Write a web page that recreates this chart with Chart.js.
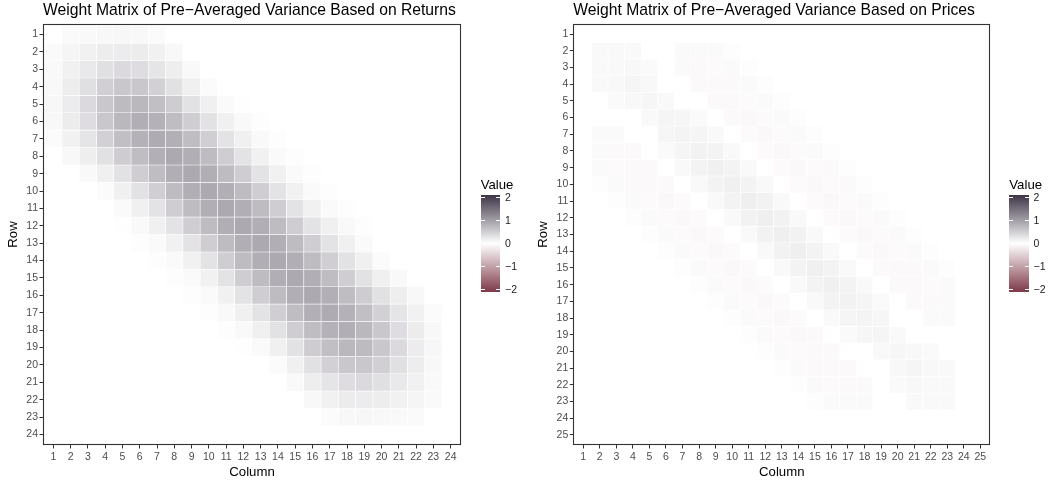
<!DOCTYPE html>
<html>
<head>
<meta charset="utf-8">
<title>Weight matrices of pre-averaged variance</title>
<script src="https://cdn.jsdelivr.net/npm/chart.js@4.4.1/dist/chart.umd.min.js"></script>
<style>
  body { margin: 0; background: #ffffff; font-family: 'Liberation Sans', Arial, sans-serif; }
  #wrap { position: relative; width: 1051px; height: 485px; overflow: hidden; }
  .panel { position: absolute; top: 0; height: 485px; }
  .legend-title { position: absolute; font-size: 13.2px; line-height: 13.2px; color: #000; white-space: nowrap; }
  .legend-bar { position: absolute; }
  .legend-tick { position: absolute; height: 1px; background: #ffffff; }
  .legend-label { position: absolute; font-size: 10.5px; line-height: 10.5px; color: #1a1a1a; white-space: nowrap; }
</style>
</head>
<body>
<div id="wrap">
  <div class="panel" style="left:0;width:525px"><canvas id="returns-chart"></canvas></div>
  <div class="panel" style="left:525px;width:526px"><canvas id="prices-chart"></canvas></div>
</div>
<script>
const returnsIndex = [1, 2, 3, 4, 5, 6, 7, 8, 9, 10, 11, 12, 13, 14, 15, 16, 17, 18, 19, 20, 21, 22, 23, 24];
const pricesIndex = [1, 2, 3, 4, 5, 6, 7, 8, 9, 10, 11, 12, 13, 14, 15, 16, 17, 18, 19, 20, 21, 22, 23, 24, 25];
const legendBreaks = [2, 1, 0, -1, -2];

// rows of the returns matrix (row 1 first), one value per column
const returnsWeights = [
  [0, .05, .06, .07, .08, .07, .04, 0, 0, 0, 0, 0, 0, 0, 0, 0, 0, 0, 0, 0, 0, 0, 0, 0],
  [.05, .10, .14, .18, .20, .19, .14, .07, 0, 0, 0, 0, 0, 0, 0, 0, 0, 0, 0, 0, 0, 0, 0, 0],
  [.06, .14, .23, .32, .37, .34, .27, .17, .06, 0, 0, 0, 0, 0, 0, 0, 0, 0, 0, 0, 0, 0, 0, 0],
  [.07, .18, .32, .47, .55, .55, .46, .31, .15, .04, 0, 0, 0, 0, 0, 0, 0, 0, 0, 0, 0, 0, 0, 0],
  [.08, .20, .37, .55, .68, .71, .64, .50, .30, .15, .05, .01, 0, 0, 0, 0, 0, 0, 0, 0, 0, 0, 0, 0],
  [.07, .19, .34, .55, .71, .80, .77, .66, .49, .30, .15, .06, .02, 0, 0, 0, 0, 0, 0, 0, 0, 0, 0, 0],
  [.04, .14, .27, .46, .64, .77, .83, .79, .66, .48, .29, .15, .06, .02, 0, 0, 0, 0, 0, 0, 0, 0, 0, 0],
  [0, .07, .17, .31, .50, .66, .79, .85, .80, .67, .49, .29, .14, .05, .02, 0, 0, 0, 0, 0, 0, 0, 0, 0],
  [0, 0, .06, .15, .30, .49, .66, .80, .85, .80, .67, .49, .29, .14, .05, .02, 0, 0, 0, 0, 0, 0, 0, 0],
  [0, 0, 0, .04, .15, .30, .48, .67, .80, .85, .80, .67, .49, .29, .14, .05, .02, 0, 0, 0, 0, 0, 0, 0],
  [0, 0, 0, 0, .05, .15, .29, .49, .67, .80, .85, .80, .67, .49, .29, .14, .05, .02, 0, 0, 0, 0, 0, 0],
  [0, 0, 0, 0, .01, .06, .15, .29, .49, .67, .80, .85, .80, .67, .49, .29, .15, .06, .02, 0, 0, 0, 0, 0],
  [0, 0, 0, 0, 0, .02, .05, .14, .29, .49, .67, .80, .85, .80, .67, .49, .29, .15, .05, 0, 0, 0, 0, 0],
  [0, 0, 0, 0, 0, 0, .02, .05, .14, .29, .49, .67, .80, .85, .80, .67, .48, .30, .15, .04, 0, 0, 0, 0],
  [0, 0, 0, 0, 0, 0, 0, .02, .05, .14, .29, .49, .67, .80, .85, .80, .66, .49, .30, .15, .06, 0, 0, 0],
  [0, 0, 0, 0, 0, 0, 0, 0, .02, .05, .14, .29, .49, .67, .80, .85, .79, .66, .50, .31, .17, .07, 0, 0],
  [0, 0, 0, 0, 0, 0, 0, 0, 0, .02, .06, .15, .29, .48, .66, .79, .83, .77, .64, .46, .27, .14, .04, 0],
  [0, 0, 0, 0, 0, 0, 0, 0, 0, 0, .02, .06, .15, .30, .49, .66, .77, .80, .71, .55, .34, .19, .07, 0],
  [0, 0, 0, 0, 0, 0, 0, 0, 0, 0, 0, .01, .05, .15, .30, .50, .64, .71, .68, .55, .37, .20, .08, 0],
  [0, 0, 0, 0, 0, 0, 0, 0, 0, 0, 0, 0, 0, .04, .15, .31, .46, .55, .55, .47, .32, .18, .07, 0],
  [0, 0, 0, 0, 0, 0, 0, 0, 0, 0, 0, 0, 0, 0, .06, .17, .27, .34, .37, .32, .23, .14, .06, 0],
  [0, 0, 0, 0, 0, 0, 0, 0, 0, 0, 0, 0, 0, 0, 0, .07, .14, .19, .20, .18, .14, .10, .05, 0],
  [0, 0, 0, 0, 0, 0, 0, 0, 0, 0, 0, 0, 0, 0, 0, 0, .04, .07, .08, .07, .06, .05, 0, 0],
  [0, 0, 0, 0, 0, 0, 0, 0, 0, 0, 0, 0, 0, 0, 0, 0, 0, 0, 0, 0, 0, 0, 0, 0]
];

// rows of the prices matrix (row 1 first)
const pricesWeights = [
  [0, 0, 0, 0, 0, 0, 0, 0, 0, 0, 0, 0, 0, 0, 0, 0, 0, 0, 0, 0, 0, 0, 0, 0, 0],
  [0, .06, .06, .06, 0, 0, .05, .05, .05, .02, 0, 0, 0, 0, 0, 0, 0, 0, 0, 0, 0, 0, 0, 0, 0],
  [0, .06, .06, .07, .05, 0, .05, -.06, -.05, .05, .02, 0, 0, 0, 0, 0, 0, 0, 0, 0, 0, 0, 0, 0, 0],
  [0, .06, .07, .10, .07, 0, 0, -.06, -.06, -.06, .05, .02, 0, 0, 0, 0, 0, 0, 0, 0, 0, 0, 0, 0, 0],
  [0, 0, .05, .07, .09, .06, 0, 0, -.06, -.06, -.05, .05, .02, 0, 0, 0, 0, 0, 0, 0, 0, 0, 0, 0, 0],
  [0, 0, 0, 0, .06, .10, .09, .05, 0, -.06, -.07, -.05, .05, .02, 0, 0, 0, 0, 0, 0, 0, 0, 0, 0, 0],
  [0, .05, .05, 0, 0, .09, .11, .10, .06, 0, -.05, -.07, -.05, .05, .02, 0, 0, 0, 0, 0, 0, 0, 0, 0, 0],
  [0, .05, -.06, -.06, 0, .05, .10, .13, .12, .06, 0, -.05, -.07, -.05, .05, .02, 0, 0, 0, 0, 0, 0, 0, 0, 0],
  [0, .05, -.05, -.06, -.06, 0, .06, .12, .15, .12, .06, 0, -.05, -.07, -.05, .05, .02, 0, 0, 0, 0, 0, 0, 0, 0],
  [0, .02, .05, -.06, -.06, -.06, 0, .06, .12, .15, .12, .06, 0, -.05, -.07, -.05, .05, .02, 0, 0, 0, 0, 0, 0, 0],
  [0, 0, .02, .05, -.05, -.07, -.05, 0, .06, .12, .16, .13, .06, 0, -.05, -.07, -.05, .05, .02, 0, 0, 0, 0, 0, 0],
  [0, 0, 0, .02, .05, -.05, -.07, -.05, 0, .06, .13, .16, .13, .06, 0, -.05, -.07, -.05, .05, .02, 0, 0, 0, 0, 0],
  [0, 0, 0, 0, .02, .05, -.05, -.07, -.05, 0, .06, .13, .16, .13, .06, 0, -.05, -.07, -.05, .05, .02, 0, 0, 0, 0],
  [0, 0, 0, 0, 0, .02, .05, -.05, -.07, -.05, 0, .06, .13, .16, .12, .06, 0, -.05, -.07, -.05, .05, .02, 0, 0, 0],
  [0, 0, 0, 0, 0, 0, .02, .05, -.05, -.07, -.05, 0, .06, .12, .15, .12, .06, 0, -.06, -.06, -.06, .05, .02, 0, 0],
  [0, 0, 0, 0, 0, 0, 0, .02, .05, -.05, -.07, -.05, 0, .06, .12, .15, .12, .06, 0, -.06, -.06, -.05, .05, 0, 0],
  [0, 0, 0, 0, 0, 0, 0, 0, .02, .05, -.05, -.07, -.05, 0, .06, .12, .13, .10, .05, 0, -.06, -.06, .05, 0, 0],
  [0, 0, 0, 0, 0, 0, 0, 0, 0, .02, .05, -.05, -.07, -.05, 0, .06, .10, .11, .09, 0, 0, .05, .05, 0, 0],
  [0, 0, 0, 0, 0, 0, 0, 0, 0, 0, .02, .05, -.05, -.07, -.06, 0, .05, .09, .10, .06, 0, 0, 0, 0, 0],
  [0, 0, 0, 0, 0, 0, 0, 0, 0, 0, 0, .02, .05, -.05, -.06, -.06, 0, 0, .06, .09, .07, .05, 0, 0, 0],
  [0, 0, 0, 0, 0, 0, 0, 0, 0, 0, 0, 0, .02, .05, -.06, -.06, -.06, 0, 0, .07, .10, .07, .06, 0, 0],
  [0, 0, 0, 0, 0, 0, 0, 0, 0, 0, 0, 0, 0, .02, .05, -.05, -.06, .05, 0, .05, .07, .06, .06, 0, 0],
  [0, 0, 0, 0, 0, 0, 0, 0, 0, 0, 0, 0, 0, 0, .02, .05, .05, .05, 0, 0, .06, .06, .06, 0, 0],
  [0, 0, 0, 0, 0, 0, 0, 0, 0, 0, 0, 0, 0, 0, 0, 0, 0, 0, 0, 0, 0, 0, 0, 0, 0],
  [0, 0, 0, 0, 0, 0, 0, 0, 0, 0, 0, 0, 0, 0, 0, 0, 0, 0, 0, 0, 0, 0, 0, 0, 0]
];

// --- Colour scale: low (-2) -> white (0) -> high (2) ---
const HIGH = [61, 52, 70];
const LOW = [125, 57, 72];
const LIMIT = 2;

const toRgb = c => `rgb(${c[0]}, ${c[1]}, ${c[2]})`;
const valueColor = v => {
  const t = Math.min(Math.abs(v) / LIMIT, 1);
  const end = v >= 0 ? HIGH : LOW;
  return toRgb(end.map(e => Math.round(255 + (e - 255) * t)));
};

Chart.defaults.font.family = "'Liberation Sans', Arial, sans-serif";

// draws the dark frame round the panel
const panelBorder = {
  id: 'panelBorder',
  afterDraw(chart) {
    const { ctx, chartArea: a } = chart;
    ctx.save();
    ctx.strokeStyle = '#333333';
    ctx.lineWidth = 1.1;
    ctx.strokeRect(Math.round(a.left) + 0.5, Math.round(a.top) + 0.5,
      Math.round(a.right - a.left) - 1, Math.round(a.bottom - a.top) - 1);
    ctx.restore();
  }
};

const makeHeatmap = (canvasId, titleText, index, weights, cfg) => {
  const datasets = weights.map((row, i) => ({
    data: index.map(col => ({ x: col, y: [index[i] - 0.5, index[i] + 0.5] })),
    backgroundColor: row.map(valueColor),
    borderColor: '#ffffff',
    borderWidth: 0.6,
    borderSkipped: false,
    grouped: false,
    barPercentage: 1,
    categoryPercentage: 1
  }));

  const indexTicks = s => { s.ticks = index.map(v => ({ value: v })); };
  const tickGrid = { display: true, drawOnChartArea: false, drawTicks: true, tickLength: 3.5, color: '#333333', offset: false };
  const tickFont = { size: 10.5 };

  return new Chart(document.getElementById(canvasId), {
    type: 'bar',
    data: { datasets },
    options: {
      responsive: true,
      maintainAspectRatio: false,
      animation: false,
      events: [],
      layout: { padding: { left: 0, top: 0, right: cfg.padRight, bottom: 0 } },
      plugins: {
        legend: { display: false },
        tooltip: { enabled: false },
        title: {
          display: true,
          text: titleText,
          align: 'start',
          fullSize: false,
          color: '#000000',
          font: { size: 15.7, weight: 'normal', lineHeight: 1 },
          padding: { top: 2.4, bottom: 5.9 }
        }
      },
      scales: {
        x: {
          type: 'linear',
          min: 0.4,
          max: index.length + 0.6,
          offset: false,
          afterBuildTicks: indexTicks,
          afterFit: s => { s.height = 40; },
          grid: tickGrid,
          border: { display: false },
          ticks: { color: '#4d4d4d', font: tickFont, padding: 2, maxRotation: 0, autoSkip: false },
          title: { display: true, text: 'Column', color: '#000000', font: { size: 13.2 }, padding: { top: 0, bottom: 5 } }
        },
        y: {
          type: 'linear',
          reverse: true,
          min: 0.4,
          max: index.length + 0.6,
          offset: false,
          afterBuildTicks: indexTicks,
          afterFit: s => { s.width = cfg.areaLeft; },
          grid: tickGrid,
          border: { display: false },
          ticks: { color: '#4d4d4d', font: tickFont, padding: 1.5, autoSkip: false },
          title: { display: true, text: 'Row', color: '#000000', font: { size: 13.2 }, padding: { top: cfg.rowTitlePad, bottom: 0 } }
        }
      }
    },
    plugins: [panelBorder]
  });
};

// --- Continuous colour bar legend (HTML) ---
const drawColorbar = (left) => {
  const wrap = document.getElementById('wrap');
  const barTop = 195, barHeight = 96.7, barWidth = 19.3, inset = 2.4, tickLen = 3.9;

  const title = document.createElement('div');
  title.className = 'legend-title';
  title.textContent = 'Value';
  title.style.left = left + 'px';
  title.style.top = '177.8px';
  wrap.appendChild(title);

  const bar = document.createElement('div');
  bar.className = 'legend-bar';
  Object.assign(bar.style, {
    left: left + 'px', top: barTop + 'px', width: barWidth + 'px', height: barHeight + 'px',
    background: `linear-gradient(to bottom, ${toRgb(HIGH)} 0%, #ffffff 50%, ${toRgb(LOW)} 100%)`
  });
  wrap.appendChild(bar);

  legendBreaks.forEach(v => {
    const y = barTop + inset + (LIMIT - v) / (2 * LIMIT) * (barHeight - 2 * inset);
    [left, left + barWidth - tickLen].forEach(x => {
      const tick = document.createElement('div');
      tick.className = 'legend-tick';
      Object.assign(tick.style, { left: x + 'px', top: (y - 0.5) + 'px', width: tickLen + 'px' });
      wrap.appendChild(tick);
    });
    const label = document.createElement('div');
    label.className = 'legend-label';
    label.textContent = v < 0 ? '\u2212' + Math.abs(v) : String(v);
    label.style.left = (left + barWidth + 5) + 'px';
    label.style.top = (y - 5.1) + 'px';
    wrap.appendChild(label);
  });
};

makeHeatmap('returns-chart', 'Weight Matrix of Pre\u2212Averaged Variance Based on Returns',
  returnsIndex, returnsWeights, { areaLeft: 43, padRight: 64, rowTitlePad: 5.8 });
makeHeatmap('prices-chart', 'Weight Matrix of Pre\u2212Averaged Variance Based on Prices',
  pricesIndex, pricesWeights, { areaLeft: 48.3, padRight: 60.7, rowTitlePad: 10.4 });

drawColorbar(480.7);
drawColorbar(1009.3);
</script>
</body>
</html>
